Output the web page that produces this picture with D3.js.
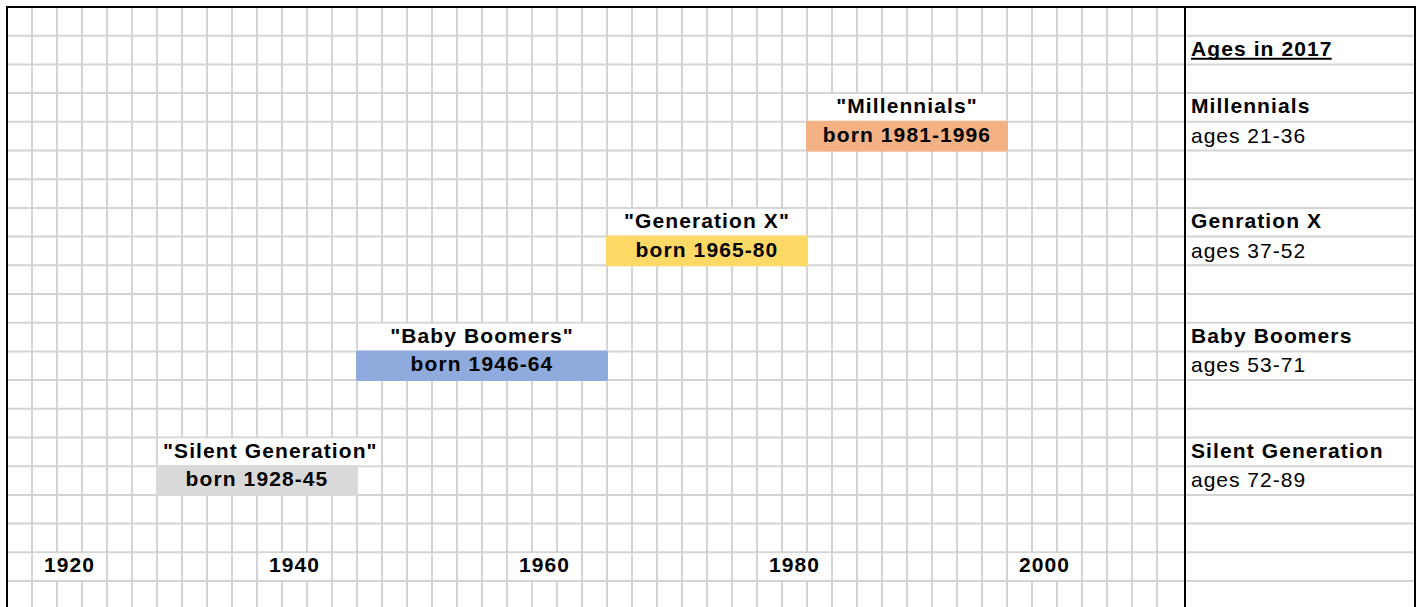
<!DOCTYPE html>
<html>
<head>
<meta charset="utf-8">
<script src="https://cdn.jsdelivr.net/npm/d3@7"></script>
<style>
  body { margin: 0; background: #fff; }
  svg { display: block; font-family: "Liberation Sans", Arial, sans-serif; }
</style>
</head>
<body>
<svg id="chart" width="1420" height="607"></svg>
<script>
'use strict';

// data
const generations = ["Silent Generation", "Baby Boomers", "Generation X", "Millennials"];
const bornFrom = [1928, 1946, 1965, 1981];
const bornTo = [1945, 1964, 1980, 1996];
const bornLabels = ["born 1928-45", "born 1946-64", "born 1965-80", "born 1981-1996"];
const sideNames = ["Silent Generation", "Baby Boomers", "Genration X", "Millennials"];
const sideAges = ["ages 72-89", "ages 53-71", "ages 37-52", "ages 21-36"];
const yearTicks = [1920, 1940, 1960, 1980, 2000];
const sideTitle = "Ages in 2017";
const barColors = ["#d9d9d9", "#8faadc", "#ffd966", "#f4b183"];

// sheet layout
const sheetLeft = 7, sheetTop = 7, colW = 25, rowH = 28.7, nCols = 47, nRows = 21;
const divider = 1185, sheetRight = 1415, H = 607;
const gridColor = "#d4d4d4";

const svg = d3.select('#chart');

const colX = d3.scaleLinear().domain([0, nCols]).range([sheetLeft, sheetLeft + nCols * colW]);
const rowY = d3.scaleLinear().domain([0, nRows]).range([sheetTop, sheetTop + nRows * rowH]);
// years -> sheet columns (the sheet is not quite even, 1920 sits closer)
const yearCol = d3.scaleLinear().domain([1920, 1940, 2000]).range([2.5, 11.5, 41.5]);
// generation index -> row of its title (bar sits on the row below)
const genRow = d3.scaleLinear().domain([0, generations.length - 1]).range([15, 3]);
const color = d3.scaleOrdinal().domain(generations).range(barColors);

const snapLeft = x => colX(Math.floor(colX.invert(x) + 1e-6));
const snapRight = x => colX(Math.ceil(colX.invert(x) - 1e-6));

// grid
const grid = svg.append('g').attr('class', 'grid')
  .attr('stroke', gridColor).attr('stroke-width', 2);

grid.selectAll('line.v')
  .data(d3.range(1, nCols))
  .enter().append('line')
  .attr('class', 'v')
  .attr('x1', d => colX(d)).attr('x2', d => colX(d))
  .attr('y1', sheetTop).attr('y2', H);

grid.selectAll('line.h')
  .data(d3.range(1, nRows))
  .enter().append('line')
  .attr('class', 'h')
  .attr('x1', sheetLeft).attr('x2', sheetRight)
  .attr('y1', d => rowY(d)).attr('y2', d => rowY(d));

const boldText = sel => sel
  .attr('font-weight', 'bold')
  .attr('font-size', 21)
  .attr('letter-spacing', 1.1)
  .attr('fill', '#000');

// generation bars
const gens = generations.map((name, i) => ({
  name, i,
  x0: colX(Math.floor(yearCol(bornFrom[i]))),
  x1: colX(Math.ceil(yearCol(bornTo[i]))),
  row: genRow(i),
  label: bornLabels[i]
}));

const gen = svg.append('g').attr('class', 'generations')
  .selectAll('g')
  .data(gens)
  .enter().append('g');

const titleBg = gen.append('rect')
  .attr('fill', '#fff')
  .attr('y', d => rowY(d.row) + 1)
  .attr('height', rowH - 2);

gen.append('rect')
  .attr('class', 'bar')
  .attr('x', d => d.x0 - 1)
  .attr('width', d => d.x1 - d.x0 + 2)
  .attr('y', d => rowY(d.row + 1) - 1)
  .attr('height', rowH + 2)
  .attr('rx', 2)
  .attr('fill', d => color(d.name));

gen.append('text')
  .attr('class', 'born')
  .attr('x', d => (d.x0 + d.x1) / 2)
  .attr('y', d => rowY(d.row + 1) + 20)
  .attr('text-anchor', 'middle')
  .call(boldText)
  .text(d => d.label);

const titles = gen.append('text')
  .attr('class', 'gen-title')
  .attr('y', d => rowY(d.row) + 20)
  .call(boldText)
  .text(d => `"${d.name}"`);

titles.each(function (d) {
  const w = this.getComputedTextLength();
  const t = d3.select(this);
  if (w + 12 <= d.x1 - d.x0) {
    t.attr('x', (d.x0 + d.x1) / 2).attr('text-anchor', 'middle');
    d.t1 = d.x1;
  } else {
    t.attr('x', d.x0 + 6).attr('text-anchor', 'start');
    d.t1 = Math.max(d.x1, snapRight(d.x0 + 6 + w));
  }
});

titleBg
  .attr('x', d => d.x0 + 1)
  .attr('width', d => d.t1 - d.x0 - 2);

// year labels along the bottom row
const yearRow = 19;
const years = svg.append('g').attr('class', 'years')
  .selectAll('g')
  .data(yearTicks)
  .enter().append('g');

years.append('rect')
  .attr('fill', '#fff')
  .attr('y', rowY(yearRow) + 1)
  .attr('height', rowH - 2);

years.append('text')
  .attr('x', d => colX(yearCol(d)))
  .attr('y', rowY(yearRow) + 20)
  .attr('text-anchor', 'middle')
  .call(boldText)
  .text(d => d)
  .each(function (d) {
    const w = this.getComputedTextLength();
    const cx = colX(yearCol(d));
    d3.select(this.parentNode).select('rect')
      .attr('x', snapLeft(cx - w / 2) + 1)
      .attr('width', snapRight(cx + w / 2) - snapLeft(cx - w / 2) - 2);
  });

// side panel
const side = svg.append('g').attr('class', 'side');
const sideX = divider + 6;

const head = side.append('text')
  .attr('x', sideX)
  .attr('y', rowY(1) + 20)
  .call(boldText)
  .text(sideTitle);

const headW = head.node().getComputedTextLength();
side.append('line')
  .attr('x1', sideX).attr('x2', sideX + headW - 1)
  .attr('y1', rowY(1) + 23).attr('y2', rowY(1) + 23)
  .attr('stroke', '#000').attr('stroke-width', 2);

side.selectAll('text.side-name')
  .data(sideNames)
  .enter().append('text')
  .attr('class', 'side-name')
  .attr('x', sideX)
  .attr('y', (d, i) => rowY(genRow(i)) + 20)
  .call(boldText)
  .text(d => d);

side.selectAll('text.side-age')
  .data(sideAges)
  .enter().append('text')
  .attr('class', 'side-age')
  .attr('x', sideX)
  .attr('y', (d, i) => rowY(genRow(i) + 1) + 21)
  .attr('font-size', 21)
  .attr('letter-spacing', 1)
  .attr('fill', '#000')
  .text(d => d);

// sheet borders
const border = svg.append('g').attr('stroke', '#000').attr('stroke-width', 2);
border.append('line')
  .attr('x1', sheetLeft).attr('x2', sheetRight + 1)
  .attr('y1', sheetTop).attr('y2', sheetTop);
[sheetLeft, divider, sheetRight].forEach(x => {
  border.append('line').attr('x1', x).attr('x2', x).attr('y1', sheetTop - 1).attr('y2', H);
});
</script>
</body>
</html>
